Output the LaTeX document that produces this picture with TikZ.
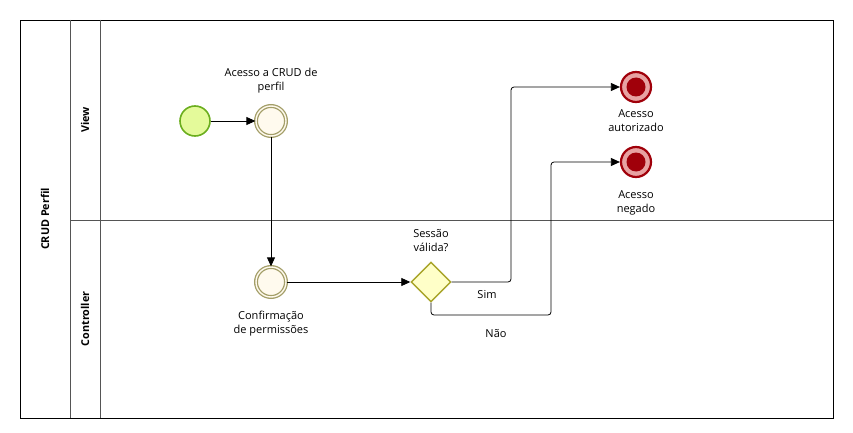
\documentclass[tikz,border=0pt]{standalone}
\usepackage{fontspec}
\setmainfont{Open Sans}
\usetikzlibrary{arrows.meta,shapes.geometric}
\definecolor{startfill}{HTML}{E4FA9A}
\definecolor{startdraw}{HTML}{6BAE1E}
\definecolor{midfill}{HTML}{FFFAEE}
\definecolor{middraw}{HTML}{A39E68}
\definecolor{gwfill}{HTML}{FFFFC8}
\definecolor{gwdraw}{HTML}{A8A42A}
\definecolor{endred}{HTML}{A0000A}
\definecolor{endpink}{HTML}{E8A2A2}
\definecolor{lanegray}{HTML}{555555}
\tikzset{
  lbl/.style={font=\fontsize{11}{14}\selectfont, align=center, inner sep=0pt},
  boldlbl/.style={font=\bfseries\fontsize{10.8}{12}\selectfont, rotate=90, inner sep=0pt},
  startev/.style={circle, minimum size=30pt, inner sep=0pt, draw=startdraw, fill=startfill, line width=1.6pt},
  midev/.style={circle, minimum size=30pt, inner sep=0pt, draw=middraw, fill=midfill, line width=1.3pt, double=midfill, double distance=1.4pt},
  endev/.style={circle, minimum size=30pt, inner sep=0pt, draw=endred, fill=endpink, line width=2.2pt},
  endcore/.style={circle, minimum size=19pt, inner sep=0pt, fill=endred},
  gw/.style={diamond, minimum size=40pt, inner sep=0pt, draw=gwdraw, fill=gwfill, line width=1.4pt},
  flow/.style={draw=black, line width=0.8pt, -{Triangle[length=9pt,width=8pt]}, rounded corners=3pt},
}
\begin{document}
\begin{tikzpicture}[x=1pt,y=-1pt]
\useasboundingbox (0,0) rectangle (853,433);
% pool and lanes
\draw[line width=0.9pt, black] (20,20) rectangle (833,418);
\draw[lanegray, line width=0.8pt] (70,20) -- (70,418);
\draw[lanegray, line width=0.8pt] (100,20) -- (100,418);
\draw[lanegray, line width=0.8pt] (70,220) -- (833,220);
\node[boldlbl] (pool) at (45,219) {CRUD Perfil};
\node[boldlbl] (lview) at (85,120) {View};
\node[boldlbl] (lctrl) at (85,319) {Controller};
% events
\node[startev] (s) at (195,121) {};
\node[midev] (m1) at (271,121) {};
\node[midev] (m2) at (271,282) {};
\node[gw] (g) at (431,282) {};
\node[endev] (e1) at (636,87) {};
\node[endcore] (e1c) at (636,87) {};
\node[endev] (e2) at (636,162) {};
\node[endcore] (e2c) at (636,162) {};
% labels
\node[lbl] (t1) at (271,81) {Acesso a CRUD de\\perfil};
\node[lbl] (t2) at (271,324) {Confirmação\\de permissões};
\node[lbl] (t3) at (431,241) {Sessão\\válida?};
\node[lbl] (t4) at (636,121) {Acesso\\autorizado};
\node[lbl] (t5) at (636,203) {Acesso\\negado};
\node[lbl] (sim) at (487,295) {Sim};
\node[lbl] (nao) at (496,334) {Não};
% flows
\coordinate (c1) at (511,282);
\coordinate (c2) at (511,87);
\coordinate (c3) at (431,315);
\coordinate (c4) at (551,315);
\coordinate (c5) at (551,162);
\draw[flow] (s) -- (m1);
\draw[flow] (m1) -- (m2);
\draw[flow] (m2) -- (g);
\draw[flow] (g.east) -- (c1) -- (c2) -- (e1);
\draw[flow] (g.south) -- (c3) -- (c4) -- (c5) -- (e2);
\end{tikzpicture}
\end{document}
